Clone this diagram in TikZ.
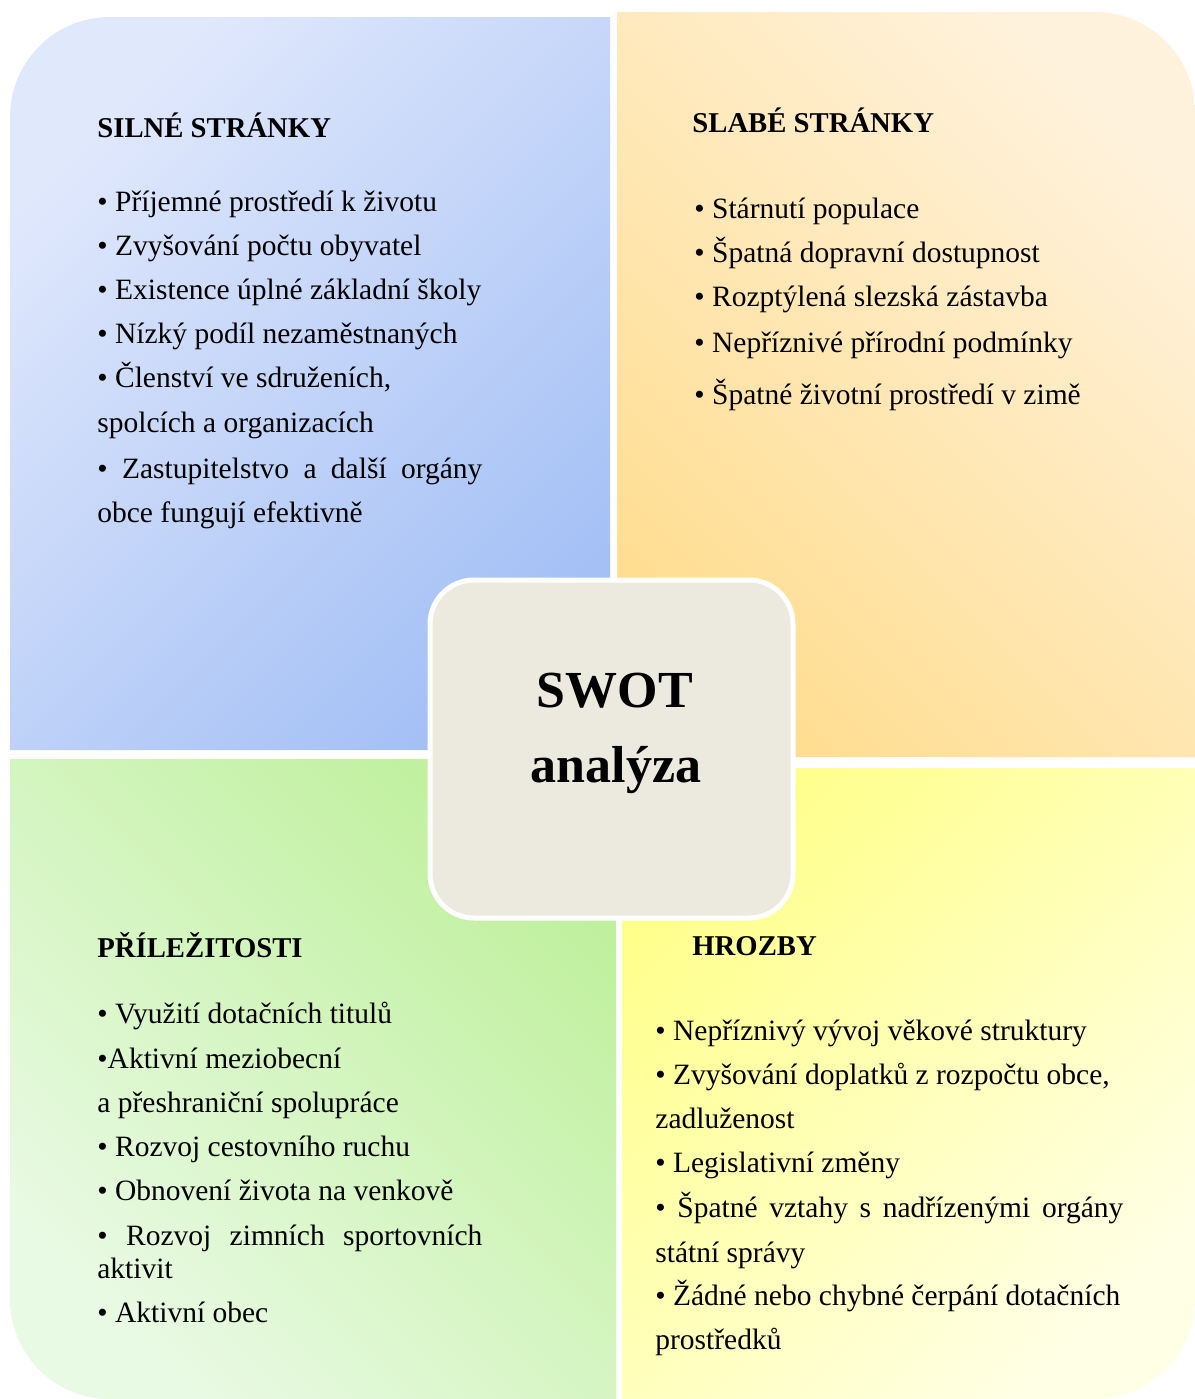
\documentclass[tikz,border=0pt]{standalone}
\usepackage{fontspec}
\setmainfont{Liberation Serif}
\definecolor{blueL}{HTML}{E0E8FC}
\definecolor{blueD}{HTML}{A4C0F5}
\definecolor{orL}{HTML}{FFF2DC}
\definecolor{orD}{HTML}{FFDE92}
\definecolor{grL}{HTML}{E9FAE4}
\definecolor{grD}{HTML}{C0F09E}
\definecolor{yeL}{HTML}{FFFFE6}
\definecolor{yeD}{HTML}{FFFF8C}
\definecolor{boxfill}{HTML}{ECE9DF}
\begin{document}
\begin{tikzpicture}[x=0.5pt,y=-0.5pt,
  txt/.style={anchor=base west, inner sep=0pt, font=\fontsize{14.75pt}{17pt}\selectfont},
  head/.style={anchor=base west, inner sep=0pt, font=\fontsize{14.35pt}{17pt}\selectfont\bfseries},
  big/.style={anchor=base, inner sep=0pt, font=\fontsize{26pt}{30pt}\selectfont\bfseries},
  centerbox/.style={draw=white, line width=2.5pt, fill=boxfill, rounded corners=22pt,
    minimum width=181.5pt, minimum height=169pt, inner sep=0pt}
]
\useasboundingbox (0,0) rectangle (1195,1399);
\fill[white] (0,0) rectangle (1195,1399);

% quadrants
\shade[top color=blueL, bottom color=blueD, shading angle=45]
  (10,750) -- (10,117) arc[start angle=180, end angle=90, radius=50pt] -- (610,17) -- (610,750) -- cycle;
\shade[top color=orL, bottom color=orD, shading angle=-45]
  (617,757) -- (617,12) -- (1095,12) arc[start angle=90, end angle=0, radius=50pt] -- (1195,757) -- cycle;
\shade[top color=grD, bottom color=grL, shading angle=-45]
  (10,759) -- (616,759) -- (616,1399) -- (110,1399) arc[start angle=270, end angle=180, radius=50pt] -- cycle;
\shade[top color=yeD, bottom color=yeL, shading angle=45]
  (622,768) -- (1195,768) -- (1195,1299) arc[start angle=0, end angle=-90, radius=50pt] -- (622,1399) -- cycle;

% center box
\node[centerbox] (swotbox) at (611.5,749) {};
\node[big] (swot) at (615,707) {SWOT};
\node[big] (anal) at (616,782) {analýza};

% Silné stránky
\node[head] (sh) at (97,137) {SILNÉ STRÁNKY};
\node[txt] (s1) at (97,211) {• Příjemné prostředí k životu};
\node[txt] (s2) at (97,255) {• Zvyšování počtu obyvatel};
\node[txt] (s3) at (97,299) {• Existence úplné základní školy};
\node[txt] (s4) at (97,343) {• Nízký podíl nezaměstnaných};
\node[txt] (s5) at (97,387) {• Členství ve sdruženích,};
\node[txt] (s6) at (97,432) {spolcích a organizacích};
\node[txt] (s7) at (97,478) {\makebox[192.5pt][s]{• Zastupitelstvo a další orgány}};
\node[txt] (s8) at (97,522) {obce fungují efektivně};

% Slabé stránky
\node[head] (wh) at (692,132) {SLABÉ STRÁNKY};
\node[txt] (w1) at (694,218) {• Stárnutí populace};
\node[txt] (w2) at (694,262) {• Špatná dopravní dostupnost};
\node[txt] (w3) at (694,306) {• Rozptýlená slezská zástavba};
\node[txt] (w4) at (694,352) {• Nepříznivé přírodní podmínky};
\node[txt] (w5) at (694,404) {• Špatné životní prostředí v zimě};

% Příležitosti
\node[head] (oh) at (97,957) {PŘÍLEŽITOSTI};
\node[txt] (o1) at (97,1023) {• Využití dotačních titulů};
\node[txt] (o2) at (97,1068) {•Aktivní meziobecní};
\node[txt] (o3) at (97,1112) {a přeshraniční spolupráce};
\node[txt] (o4) at (97,1156) {• Rozvoj cestovního ruchu};
\node[txt] (o5) at (97,1200) {• Obnovení života na venkově};
\node[txt] (o6) at (97,1245) {\makebox[192.5pt][s]{• Rozvoj zimních sportovních}};
\node[txt] (o7) at (97,1278) {aktivit};
\node[txt] (o8) at (97,1322) {• Aktivní obec};

% Hrozby
\node[head] (th) at (692,955) {HROZBY};
\node[txt] (t1) at (655,1040) {• Nepříznivý vývoj věkové struktury};
\node[txt] (t2) at (655,1084) {• Zvyšování doplatků z rozpočtu obce,};
\node[txt] (t3) at (655,1128) {zadluženost};
\node[txt] (t4) at (655,1172) {• Legislativní změny};
\node[txt] (t5) at (655,1217) {\makebox[234pt][s]{• Špatné vztahy s nadřízenými orgány}};
\node[txt] (t6) at (655,1262) {státní správy};
\node[txt] (t7) at (655,1305) {• Žádné nebo chybné čerpání dotačních};
\node[txt] (t8) at (655,1349) {prostředků};
\end{tikzpicture}
\end{document}
